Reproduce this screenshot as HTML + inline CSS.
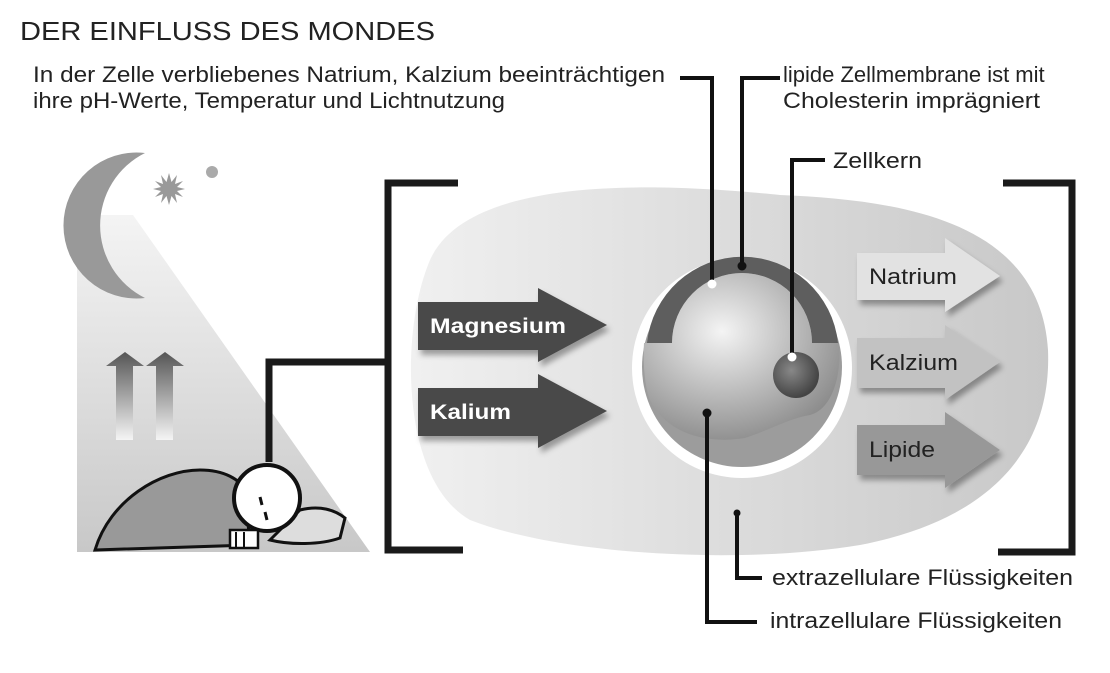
<!DOCTYPE html>
<html><head><meta charset="utf-8"><style>
body{margin:0;background:#fff}
svg{display:block}
text{font-family:"Liberation Sans",sans-serif}
</style></head><body>
<svg width="1110" height="673" viewBox="0 0 1110 673" xmlns="http://www.w3.org/2000/svg">
<defs>
<linearGradient id="beam" x1="0" y1="0" x2="0" y2="1"><stop offset="0" stop-color="#f4f4f4"/><stop offset="1" stop-color="#c8c8c8"/></linearGradient>
<linearGradient id="up" x1="0" y1="0" x2="0" y2="1"><stop offset="0" stop-color="#555"/><stop offset="1" stop-color="#f5f5f5"/></linearGradient>
<linearGradient id="blob" x1="0" y1="0" x2="1" y2="0"><stop offset="0" stop-color="#f0f0f0"/><stop offset="0.5" stop-color="#dcdcdc"/><stop offset="1" stop-color="#c8c8c8"/></linearGradient>
<radialGradient id="sph" cx="0.4" cy="0.35" r="0.7"><stop offset="0" stop-color="#f4f4f4"/><stop offset="1" stop-color="#8a8a8a"/></radialGradient>
<radialGradient id="nuc" cx="0.4" cy="0.4" r="0.6"><stop offset="0" stop-color="#888"/><stop offset="1" stop-color="#444"/></radialGradient>
<filter id="sh" x="-10%" y="-10%" width="130%" height="140%"><feDropShadow dx="3" dy="5" stdDeviation="3" flood-color="#000" flood-opacity="0.35"/></filter>
</defs>
<g fill="#222">
<text x="20" y="40" font-size="26" textLength="415" lengthAdjust="spacingAndGlyphs">DER EINFLUSS DES MONDES</text>
<text x="33" y="82" font-size="22" textLength="632" lengthAdjust="spacingAndGlyphs">In der Zelle verbliebenes Natrium, Kalzium beeinträchtigen</text>
<text x="33" y="108" font-size="22" textLength="472" lengthAdjust="spacingAndGlyphs">ihre pH-Werte, Temperatur und Lichtnutzung</text>
<text x="783" y="82" font-size="22">lipide Zellmembrane ist mit</text>
<text x="783" y="108" font-size="22" textLength="257" lengthAdjust="spacingAndGlyphs">Cholesterin imprägniert</text>
<text x="833" y="168" font-size="22" textLength="89" lengthAdjust="spacingAndGlyphs">Zellkern</text>
<text x="772" y="585" font-size="22" textLength="301" lengthAdjust="spacingAndGlyphs">extrazellulare Flüssigkeiten</text>
<text x="770" y="628" font-size="22" textLength="292" lengthAdjust="spacingAndGlyphs">intrazellulare Flüssigkeiten</text>
</g>

<!-- left scene -->
<polygon points="77,215 133,215 370,552 77,552" fill="url(#beam)"/>
<path d="M145,153 A73,73 0 1,0 145,298 A81,81 0 0,1 145,153 Z" fill="#999"/>
<circle cx="212" cy="172" r="6" fill="#aaa"/>
<g fill="#999" transform="translate(169,189)">
<polygon points="0,-16 2.5,-7 8,-14 6,-5 14,-8 8,-2 16,0 8,2 14,8 6,5 8,14 2.5,7 0,16 -2.5,7 -8,14 -6,5 -14,8 -8,2 -16,0 -8,-2 -14,-8 -6,-5 -8,-14 -2.5,-7"/></g>
<polygon points="106,366 125,352 144,366 133,366 133,440 116,440 116,366" fill="url(#up)"/>
<polygon points="146,366 165,352 184,366 173,366 173,440 156,440 156,366" fill="url(#up)"/>
<path d="M95,550 C110,500 160,470 200,470 C225,470 240,480 245,490 L250,545 Z" fill="#999" stroke="#111" stroke-width="3"/>
<path d="M300,510 C320,505 335,510 345,518 L340,538 C320,545 290,545 270,540 Z" fill="#ddd" stroke="#111" stroke-width="3"/>
<circle cx="267" cy="498" r="33" fill="#fff" stroke="#111" stroke-width="4"/>
<rect x="230" y="530" width="28" height="18" fill="#fff" stroke="#111" stroke-width="2.5"/>
<line x1="236" y1="532" x2="236" y2="548" stroke="#111" stroke-width="2"/>
<line x1="244" y1="532" x2="244" y2="548" stroke="#111" stroke-width="2"/>
<line x1="260" y1="497" x2="262" y2="505" stroke="#111" stroke-width="3"/>
<line x1="265" y1="512" x2="267" y2="520" stroke="#111" stroke-width="3"/>
<polyline points="269,462 269,362 388,362" fill="none" stroke="#1a1a1a" stroke-width="7"/>

<!-- brackets -->
<polyline points="458,183 388,183 388,550 463,550" fill="none" stroke="#1a1a1a" stroke-width="7"/>
<polyline points="1003,183 1072,183 1072,552 998,552" fill="none" stroke="#1a1a1a" stroke-width="7"/>

<!-- blob -->
<path d="M430,260 C470,170 680,185 780,195 C900,200 1040,220 1048,350 C1052,450 990,520 860,545 C740,565 560,555 470,520 C400,480 400,330 430,260 Z" fill="url(#blob)"/>

<!-- left arrows -->
<g filter="url(#sh)">
<polygon points="418,302 538,302 538,288 607,325 538,362 538,350 418,350" fill="#4a4a4a"/>
<polygon points="418,388 538,388 538,374 607,411 538,448 538,436 418,436" fill="#4a4a4a"/>
</g>
<text x="430" y="333" font-size="21" font-weight="bold" fill="#fff" textLength="136" lengthAdjust="spacingAndGlyphs">Magnesium</text>
<text x="430" y="419" font-size="21" font-weight="bold" fill="#fff" textLength="81" lengthAdjust="spacingAndGlyphs">Kalium</text>

<!-- right arrows -->
<g filter="url(#sh)">
<polygon points="857,253 945,253 945,238 1000,276 945,312 945,300 857,300" fill="#e2e2e2"/>
<polygon points="857,338 945,338 945,325 1000,362 945,400 945,388 857,388" fill="#c2c2c2"/>
<polygon points="857,425 945,425 945,412 1000,450 945,488 945,475 857,475" fill="#989898"/>
</g>
<g fill="#222" font-size="22">
<text x="869" y="284" textLength="88" lengthAdjust="spacingAndGlyphs">Natrium</text>
<text x="869" y="370" textLength="89" lengthAdjust="spacingAndGlyphs">Kalzium</text>
<text x="869" y="457" textLength="66" lengthAdjust="spacingAndGlyphs">Lipide</text>
</g>

<!-- cell -->
<circle cx="742" cy="368" r="110" fill="#fff"/>
<circle cx="742" cy="367" r="100" fill="#9c9c9c"/>
<path d="M647,343 A96,96 0 0,1 838,343 L812,343 A70,70 0 0,0 672,343 Z" fill="#5e5e5e"/>
<path d="M644,343 L672,343 A70,70 0 0,1 812,343 L839,343 C842,380 830,410 810,415 C790,418 770,430 745,438 C700,445 665,430 650,400 C644,385 643,360 644,343 Z" fill="url(#sph)"/>
<circle cx="796" cy="375" r="23" fill="url(#nuc)"/>

<!-- leader lines -->
<g fill="none" stroke="#111" stroke-width="4">
<polyline points="680,78 712,78 712,282"/>
<polyline points="780,78 742,78 742,266"/>
<polyline points="825,160 792,160 792,357"/>
<polyline points="707,413 707,622 757,622"/>
<polyline points="737,513 737,578 762,578"/>
</g>
<circle cx="712" cy="284" r="4.5" fill="#fff"/>
<circle cx="742" cy="266" r="4.5" fill="#111"/>
<circle cx="792" cy="357" r="4.5" fill="#fff"/>
<circle cx="707" cy="413" r="4.5" fill="#111"/>
<circle cx="737" cy="513" r="3.5" fill="#111"/>
</svg>
</body></html>
